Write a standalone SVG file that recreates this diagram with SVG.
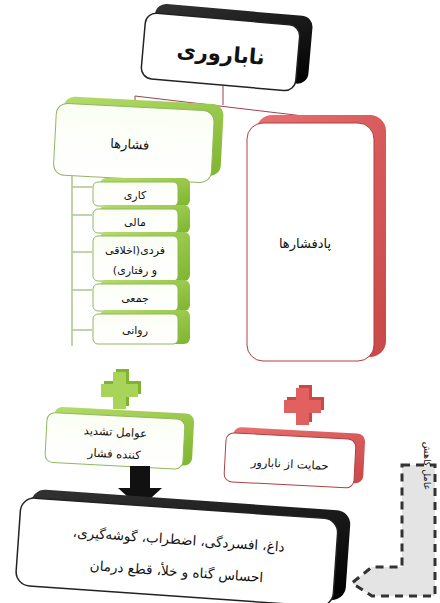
<svg xmlns="http://www.w3.org/2000/svg" width="440" height="603" viewBox="0 0 440 603">
<defs>
<linearGradient id="gG" x1="0" y1="0" x2="1" y2="1"><stop offset="0" stop-color="#b5dc6a"/><stop offset="1" stop-color="#7fb52e"/></linearGradient>
<linearGradient id="gR" x1="0" y1="0" x2="1" y2="1"><stop offset="0" stop-color="#e87070"/><stop offset="1" stop-color="#c94848"/></linearGradient>
<linearGradient id="gK" x1="0" y1="0" x2="1" y2="1"><stop offset="0" stop-color="#333"/><stop offset="1" stop-color="#000"/></linearGradient>
<linearGradient id="fG" x1="0" y1="0" x2="0" y2="1"><stop offset="0" stop-color="#fbfef4"/><stop offset="1" stop-color="#ffffff"/></linearGradient>
</defs>
<style>
.t{font-family:"DejaVu Sans","Noto Sans",sans-serif;fill:#111;text-anchor:middle;direction:rtl}
.fw{fill:#fff;stroke:#222;stroke-width:1.5}
.fg{fill:url(#fG);stroke:#8fb860;stroke-width:1}
.fr{fill:#fff;stroke:#b04040;stroke-width:1}
.dg{fill:url(#gG)}
.dr{fill:url(#gR)}
.dk{fill:url(#gK)}
.cn{fill:none;stroke:#a04050;stroke-width:1}
.br{fill:none;stroke:#a9c98a;stroke-width:1.5}
</style>
<g id="connectors">
<polyline class="cn" points="223,86 223,105"/>
<polyline class="cn" points="135,110 135,96 312,117 312,124"/>
<path class="br" d="M72,176 V346 M72,187 H92 M72,215 H92 M72,252 H92 M72,290 H92 M72,330 H92"/>
</g>
<g id="n-top" transform="rotate(5 222 52)">
<rect class="dk" x="152" y="9" width="158" height="68" rx="11"/>
<rect class="fw" x="143" y="19" width="155" height="66" rx="11"/>
<text class="t" x="221" y="61" font-size="21" font-weight="bold">ناباروری</text>
</g>
<g id="n-pressures" transform="rotate(3 135 140)">
<rect class="dg" x="62" y="100" width="160" height="72" rx="11"/>
<rect class="fg" x="55" y="107" width="158" height="72" rx="11"/>
<text class="t" x="130" y="149" font-size="13">فشارها</text>
</g>
<g id="n-items">
<rect class="dg" x="100" y="178" width="90" height="28" rx="6"/>
<rect class="fg" x="93" y="182" width="85" height="24" rx="5"/>
<text class="t" x="135" y="199" font-size="11">کاری</text>
<rect class="dg" x="100" y="205" width="90" height="28" rx="6"/>
<rect class="fg" x="93" y="209" width="85" height="24" rx="5"/>
<text class="t" x="135" y="226" font-size="11">مالی</text>
<rect class="dg" x="100" y="232" width="90" height="49" rx="6"/>
<rect class="fg" x="93" y="236" width="85" height="45" rx="5"/>
<text class="t" x="135" y="254" font-size="11">فردی(اخلاقی</text>
<text class="t" x="135" y="274" font-size="11">و رفتاری)</text>
<rect class="dg" x="100" y="280" width="90" height="31" rx="6"/>
<rect class="fg" x="93" y="284" width="85" height="27" rx="5"/>
<text class="t" x="135" y="302" font-size="11">جمعی</text>
<rect class="dg" x="100" y="310" width="90" height="34" rx="6"/>
<rect class="fg" x="93" y="314" width="85" height="30" rx="5"/>
<text class="t" x="135" y="334" font-size="11">روانی</text>
</g>
<g id="n-counter">
<rect class="dr" x="256" y="115" width="130" height="242" rx="16"/>
<rect class="fr" x="247" y="123" width="127" height="238" rx="16"/>
<text class="t" x="305" y="248" font-size="13">پادفشارها</text>
</g>
<g id="plus-green">
<path fill="#7fb52e" d="M113,372 h13 v12 h12 v13 h-12 v12 h-13 v-12 h-12 v-13 h12 z" transform="translate(3,-3)"/>
<path fill="#a8d45a" d="M113,372 h13 v12 h12 v13 h-12 v12 h-13 v-12 h-12 v-13 h12 z"/>
</g>
<g id="plus-red">
<path fill="#c94848" d="M296,388 h13 v12 h12 v13 h-12 v12 h-13 v-12 h-12 v-13 h12 z" transform="translate(3,-3)"/>
<path fill="#e26060" d="M296,388 h13 v12 h12 v13 h-12 v12 h-13 v-12 h-12 v-13 h12 z"/>
</g>
<g id="n-aggravating" transform="rotate(3 118 440)">
<rect class="dg" x="53" y="410" width="140" height="52" rx="8"/>
<rect class="fg" x="46" y="416" width="138" height="50" rx="8"/>
<text class="t" x="115" y="436" font-size="11.5">عوامل تشدید</text>
<text class="t" x="115" y="458" font-size="11.5">کننده فشار</text>
</g>
<g id="n-support" transform="rotate(3 292 460)">
<rect class="dr" x="232" y="430" width="132" height="50" rx="8"/>
<rect class="fr" x="225" y="436" width="130" height="49" rx="8"/>
<text class="t" x="290" y="468" font-size="11.5">حمایت از نابارور</text>
</g>
<g id="arrow-down">
<path fill="#111" d="M130,466 h20 v22 h12 l-22,20 l-22,-20 h12 z"/>
</g>
<g id="n-outcome" transform="rotate(4 175 550)">
<rect class="dk" x="28" y="499" width="320" height="90" rx="14"/>
<rect class="fw" x="18" y="508" width="318" height="88" rx="14"/>
<text class="t" x="178" y="544" font-size="13.5">داغ، افسردگی، اضطراب، گوشه‌گیری،</text>
<text class="t" x="178" y="576" font-size="13.5">احساس گناه و خلأ، قطع درمان</text>
</g>
<g id="arrow-reduce">
<path d="M402,465 H435 V596 H372 L352,583 L372,567 H402 Z" fill="#e4e4e4" stroke="#333" stroke-width="3" stroke-dasharray="8,6"/>
<text class="t" transform="translate(424,466) rotate(90)" font-size="9.5">عامل کاهش</text>
</g>
</svg>
